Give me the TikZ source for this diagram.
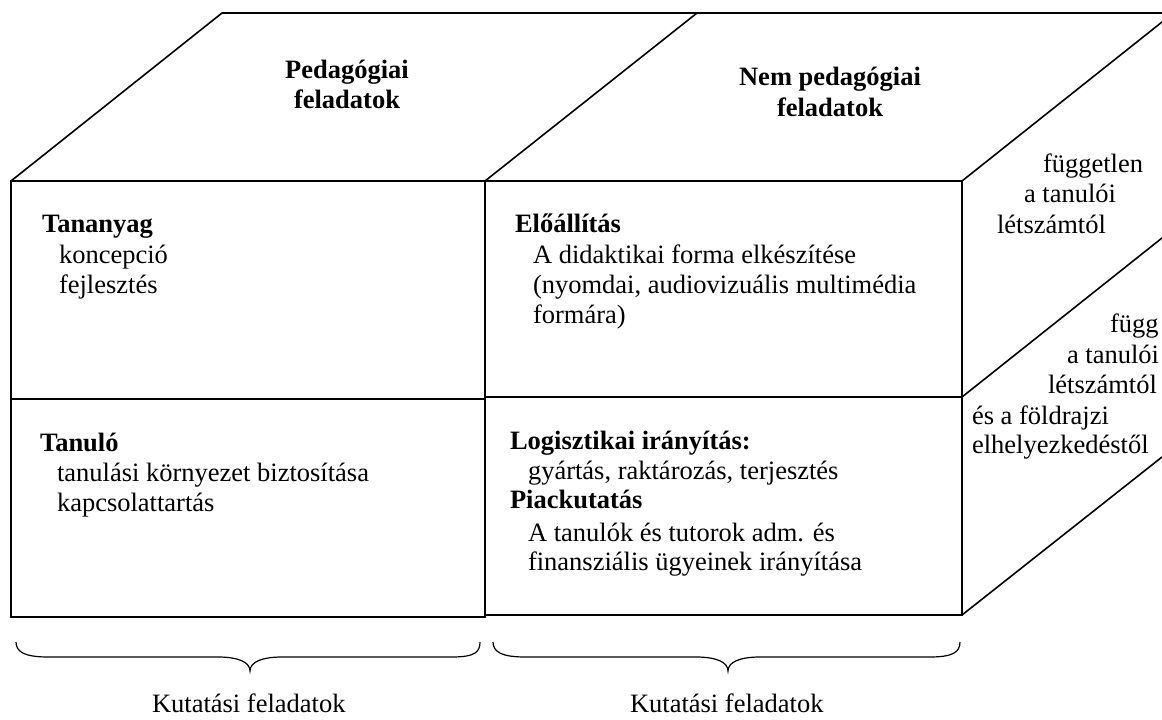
\documentclass[tikz,border=0pt]{standalone}
\usepackage{fontspec}
\setmainfont{Liberation Serif}
\begin{document}
\begin{tikzpicture}[x=1pt,y=-1pt,
  edge/.style={line width=1.6pt,line cap=round,line join=miter},
  thin edge/.style={line width=1.2pt},
  txt/.style={inner sep=0pt,outer sep=0pt,anchor=base west,font=\fontsize{26.5}{30}\selectfont},
  head/.style={inner sep=0pt,outer sep=0pt,anchor=base,font=\fontsize{26.5}{30}\selectfont\bfseries},
  btxt/.style={txt,font=\fontsize{26.5}{30}\selectfont\bfseries}]
\useasboundingbox (0,0) rectangle (1162,720);
% front face
\draw[edge] (11,181) rectangle (485,399);
\draw[edge] (11,399) rectangle (485,617);
\draw[edge] (485,181) rectangle (962,397);
\draw[edge] (485,397) rectangle (962,615);
% top face
\draw[edge] (11,181) -- (222,13) -- (1162,13);
\draw[edge] (485,181) -- (697,13);
\draw[edge] (962,181) -- (1162,22);
% right face
\draw[edge] (962,397) -- (1162,238);
\draw[edge] (962,615) -- (1162,457);
% headings
\node[head] (h1a) at (347,78) {Pedagógiai};
\node[head] (h1b) at (347,108) {feladatok};
\node[head] (h2a) at (830,85) {Nem pedagógiai};
\node[head] (h2b) at (830,116) {feladatok};
% left top
\node[btxt] (t1) at (42,232) {Tananyag};
\node[txt] (t2) at (59,263) {koncepció};
\node[txt] (t3) at (59,293) {fejlesztés};
% left bottom
\node[btxt] (l1) at (40,451) {Tanuló};
\node[txt] (l2) at (57,481) {tanulási környezet biztosítása};
\node[txt] (l3) at (57,511) {kapcsolattartás};
% right top
\node[btxt] (e1) at (515,232) {Előállítás};
\node[txt] (e2) at (533,263) {A didaktikai forma elkészítése};
\node[txt] (e3) at (533,293) {(nyomdai, audiovizuális multimédia};
\node[txt] (e4) at (533,323) {formára)};
% right bottom
\node[btxt] (g1) at (510,449) {Logisztikai irányítás:};
\node[txt] (g2) at (528,479) {gyártás, raktározás, terjesztés};
\node[btxt] (g3) at (510,508) {Piackutatás};
\node[txt] (g4) at (528,541) {A tanulók és tutorok adm. és};
\node[txt] (g5) at (528,570) {finansziális ügyeinek irányítása};
% side texts
\node[txt] (s1) at (1043,172) {független};
\node[txt] (s2) at (1024,202) {a tanulói};
\node[txt] (s3) at (997,233) {létszámtól};
\node[txt] (s4) at (1110,332) {függ};
\node[txt] (s5) at (1067,363) {a tanulói};
\node[txt] (s6) at (1048,393) {létszámtól};
\node[txt] (s7) at (972,424) {és a földrajzi};
\node[txt] (s8) at (972,453) {elhelyezkedéstől};
% braces
\draw[thin edge] (16,642) .. controls (16,652) and (25,657) .. (48,657) -- (218,657)
  .. controls (238,657) and (250,662) .. (250,671)
  .. controls (250,662) and (262,657) .. (282,657) -- (452,657)
  .. controls (475,657) and (480,652) .. (480,642);
\draw[thin edge] (493,642) .. controls (493,652) and (502,657) .. (525,657) -- (696,657)
  .. controls (716,657) and (728,662) .. (728,671)
  .. controls (728,662) and (740,657) .. (760,657) -- (930,657)
  .. controls (953,657) and (960,652) .. (960,642);
\node[txt] (k1) at (152,712) {Kutatási feladatok};
\node[txt] (k2) at (630,712) {Kutatási feladatok};
\end{tikzpicture}
\end{document}
